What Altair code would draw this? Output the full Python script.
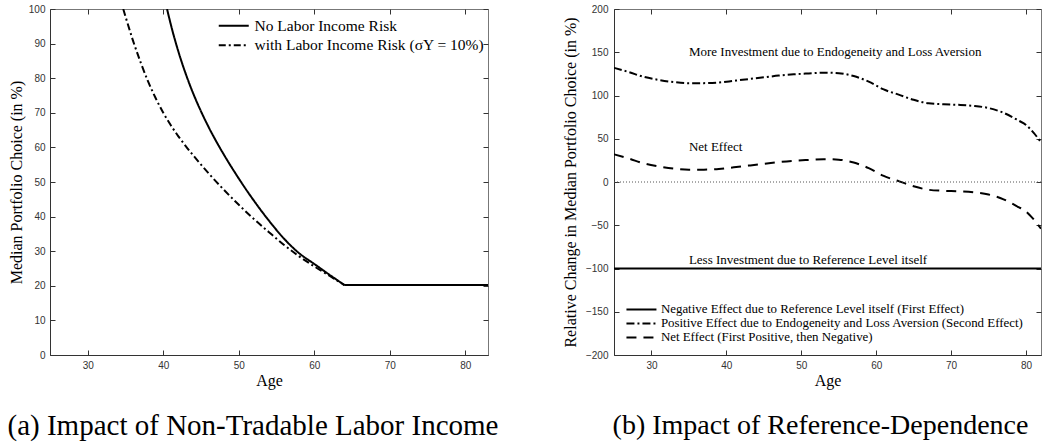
import altair as alt
import pandas as pd

# ---------------- data ----------------
left_series = ["No Labor Income Risk", "with Labor Income Risk (σY = 10%)"]

# declining part of each curve, then the flat floor after the kink at age 64
age_no_risk = [40.5, 41, 42, 43, 44, 45, 46, 47, 48, 50, 52, 54, 56, 58, 60, 62, 64]
val_no_risk = [100, 95.5, 87.7, 81.1, 75.4, 70.4, 65.9, 61.8, 58.0, 51.0, 44.6, 38.8, 33.6, 29.4,
               26.3, 23.2, 20.2]

age_risk = [34.7, 35, 36, 37, 38, 39, 40, 41, 42, 43, 44, 45, 46, 47, 48, 50, 52, 54, 56, 58, 60, 62, 64]
val_risk = [100, 97.8, 90.8, 84.6, 79.0, 74.2, 70.0, 66.4, 63.2, 60.3, 57.6, 55.0, 52.5, 50.1, 47.8,
            43.4, 39.3, 35.5, 31.8, 28.5, 25.6, 22.9, 20.2]

age_floor = [64, 83]
val_floor = [20.2, 20.2]

right_series = [
    "Negative Effect due to Reference Level itself (First Effect)",
    "Positive Effect due to Endogeneity and Loss Aversion (Second Effect)",
    "Net Effect (First Positive, then Negative)",
]
age_neg = [25, 82]
val_neg = [-100, -100]

age_r = [25, 27, 29, 31, 33, 35, 37, 39, 41, 43, 45, 47, 49, 51, 53, 55, 57, 59, 61, 63, 65, 67,
         69, 71, 73, 75, 77, 79, 80, 81, 82]
val_pos = [132, 127, 121.5, 118, 115.5, 114.2, 114.3, 115, 117, 119, 121, 123, 124.5, 125.5, 126.4,
           125.8, 122.5, 116, 107, 101, 95, 91, 89.8, 89.2, 88, 85.5, 80, 71, 66, 57, 46]
val_net = [32, 27, 21.5, 18, 15.5, 14.2, 14.3, 15, 17, 19, 21, 23, 24.5, 25.5, 26.4,
           25.8, 22.5, 16, 7, 1, -5, -9, -10.2, -10.8, -12, -14.5, -20, -29, -34, -43, -54]

annot_text = ["More Investment due to Endogeneity and Loss Aversion", "Net Effect",
              "Less Investment due to Reference Level itself"]
annot_age = [35, 35, 35]
annot_val = [150, 40.5, -90]

left_xticks = [30, 40, 50, 60, 70, 80]
left_yticks = [0, 10, 20, 30, 40, 50, 60, 70, 80, 90, 100]
right_xticks = [30, 40, 50, 60, 70, 80]
right_yticks = [-200, -150, -100, -50, 0, 50, 100, 150, 200]

# ---------------- build tables ----------------
left_df = pd.concat([
    pd.DataFrame({"age": age_no_risk, "val": val_no_risk, "series": left_series[0], "seg": "a1"}),
    pd.DataFrame({"age": age_floor, "val": val_floor, "series": left_series[0], "seg": "a2"}),
    pd.DataFrame({"age": age_risk, "val": val_risk, "series": left_series[1], "seg": "b1"}),
    pd.DataFrame({"age": age_floor, "val": val_floor, "series": left_series[1], "seg": "b2"}),
])
right_df = pd.concat([
    pd.DataFrame({"age": age_neg, "val": val_neg, "series": right_series[0], "seg": "a"}),
    pd.DataFrame({"age": age_r, "val": val_pos, "series": right_series[1], "seg": "b"}),
    pd.DataFrame({"age": age_r, "val": val_net, "series": right_series[2], "seg": "c"}),
])
annot_df = pd.DataFrame({"text": annot_text, "age": annot_age, "val": annot_val})

SERIF = "Liberation Serif"
SANS = "Liberation Sans"
H = 346


def panel(df, w, xdom, ydom, xticks, yticks, ytitle, dash_range, series, legend, caption,
          cap_dx, cap_size, extra=None, ylab_pad=5, ytitle_pad=4):
    xs = alt.Scale(domain=xdom, nice=False, zero=False)
    ys = alt.Scale(domain=ydom, nice=False, zero=False)
    main = alt.Chart(df).mark_line(color="black", strokeWidth=2, clip=True,
                                   interpolate="monotone").encode(
        x=alt.X("age:Q", scale=xs, axis=alt.Axis(
            values=xticks, ticks=False, grid=False, domainColor="#333", labelFont=SANS,
            labelFontSize=10, labelColor="#333", labelPadding=5, title="Age", titleFont=SERIF,
            titleFontSize=16, titleFontWeight="normal", titleColor="black", titlePadding=2)),
        y=alt.Y("val:Q", scale=ys, axis=alt.Axis(
            values=yticks, ticks=False, grid=False, domainColor="#333", labelFont=SANS,
            labelFontSize=10, labelColor="#333", labelPadding=ylab_pad, title=ytitle,
            titleFont=SERIF, titleFontSize=16, titleFontWeight="normal", titleColor="black",
            titlePadding=ytitle_pad)),
        strokeDash=alt.StrokeDash("series:N", scale=alt.Scale(domain=series, range=dash_range),
                                  legend=legend),
        detail="seg:N",
    )
    tick_axis = dict(labels=False, domain=False, grid=False, title=None, tickSize=5,
                     tickColor="#333")
    tk1 = alt.Chart(df).mark_point(opacity=0).encode(
        x=alt.X("age:Q", scale=xs, axis=alt.Axis(orient="top", offset=-H, values=xticks,
                                                 **tick_axis)),
        y=alt.Y("val:Q", scale=ys, axis=alt.Axis(orient="right", offset=-w, values=yticks,
                                                 **tick_axis)),
    )
    tk2 = alt.Chart(df).mark_point(opacity=0).encode(
        x=alt.X("age:Q", scale=xs, axis=alt.Axis(orient="bottom", offset=-H, values=xticks,
                                                 **tick_axis)),
        y=alt.Y("val:Q", scale=ys, axis=alt.Axis(orient="left", offset=-w, values=yticks,
                                                 **tick_axis)),
    )
    layers = [main]
    if extra:
        layers = layers + extra
    ch = alt.layer(*layers, tk1, tk2).resolve_axis(x="independent", y="independent").properties(
        width=w, height=H,
        title=alt.TitleParams(caption, orient="bottom", font=SERIF, fontSize=cap_size,
                              fontWeight="normal", color="black", anchor="middle",
                              offset=24, dx=cap_dx),
    )
    return ch


# custom wide line symbol: 30 px long line while the legend row stays compact
LINE_SYMBOL = "M-3,0H3"

left_legend = alt.Legend(orient="none", legendX=176, legendY=9, title=None,
                         symbolType=LINE_SYMBOL, symbolSize=100, symbolStrokeWidth=2,
                         symbolStrokeColor="black", symbolFillColor="transparent",
                         labelFont=SERIF, labelFontSize=15.5, labelColor="black", rowPadding=2.5,
                         labelOffset=13, labelLimit=400)
right_legend = alt.Legend(orient="none", legendX=21, legendY=294, title=None,
                          symbolType=LINE_SYMBOL, symbolSize=100, symbolStrokeWidth=2,
                          symbolStrokeColor="black", symbolFillColor="transparent",
                          labelFont=SERIF, labelFontSize=12.9, labelColor="black", rowPadding=0,
                          labelOffset=13, labelLimit=500)

zero_rule = alt.Chart(pd.DataFrame({"val": [0]})).mark_rule(
    strokeDash=[1, 2], color="#555", strokeWidth=1).encode(
    y=alt.Y("val:Q", axis=None))
annots = alt.Chart(annot_df).mark_text(align="left", baseline="middle", font=SERIF,
                                        fontSize=13, color="black").encode(
    x=alt.X("age:Q", axis=None), y=alt.Y("val:Q", axis=None), text="text:N")

left = panel(left_df, 438, [25, 83], [0, 100], left_xticks, left_yticks,
             "Median Portfolio Choice (in %)", [[1, 0], [7, 3, 2, 3]], left_series, left_legend,
             "(a) Impact of Non-Tradable Labor Income", -16, 29)
right = panel(right_df, 427, [25, 82], [-200, 200], right_xticks, right_yticks,
              "Relative Change in Median Portfolio Choice (in %)",
              [[1, 0], [8, 3, 2, 3], [10, 7]], right_series, right_legend,
              "(b) Impact of Reference-Dependence", -7, 28,
              extra=[zero_rule, annots], ylab_pad=6, ytitle_pad=7)

chart = alt.hconcat(left, right, spacing=62).resolve_scale(strokeDash="independent").configure_view(
    stroke="#777", strokeWidth=1).properties(
    padding={"left": 7, "top": 3, "right": 0, "bottom": 0}, background="white")

chart.save("out.html", embed_options={"renderer": "svg", "actions": False})
